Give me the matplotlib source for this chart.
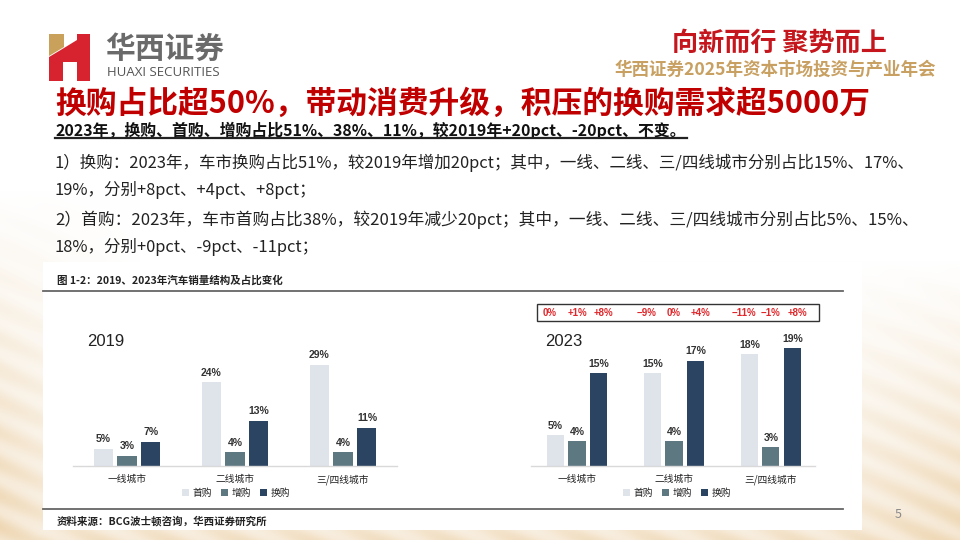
import numpy as np
import matplotlib
matplotlib.use('Agg')
import matplotlib.pyplot as plt
from matplotlib.patches import Polygon, Rectangle, Patch
from matplotlib.transforms import blended_transform_factory

plt.rcParams['font.family'] = ['Noto Sans CJK SC', 'DejaVu Sans']

# ---------------- data ----------------
categories = ['一线城市', '二线城市', '三/四线城市']
series_names = ['首购', '增购', '换购']
share_2019_first = [5, 24, 29]
share_2019_add = [3, 4, 4]
share_2019_replace = [7, 13, 11]
share_2023_first = [5, 15, 18]
share_2023_add = [4, 4, 3]
share_2023_replace = [15, 17, 19]
series_colors = ['#dfe4eb', '#5e7882', '#2b4462']

title = '换购占比超50%，带动消费升级，积压的换购需求超5000万'
subtitle = '2023年，换购、首购、增购占比51%、38%、11%，较2019年+20pct、-20pct、不变。'
body_lines = [
    '1）换购：2023年，车市换购占比51%，较2019年增加20pct；其中，一线、二线、三/四线城市分别占比15%、17%、',
    '19%，分别+8pct、+4pct、+8pct；',
    '2）首购：2023年，车市首购占比38%，较2019年减少20pct；其中，一线、二线、三/四线城市分别占比5%、15%、',
    '18%，分别+0pct、-9pct、-11pct；',
]
caption = '图 1-2：2019、2023年汽车销量结构及占比变化'
source = '资料来源：BCG波士顿咨询，华西证券研究所'

W, H = 960, 540
fig = plt.figure(figsize=(9.6, 5.4), dpi=100)
bg = fig.add_axes([0, 0, 1, 1], zorder=0)

# ---------------- background ----------------
yy, xx = np.mgrid[0:H, 0:W].astype(float)
a_left = np.clip((yy - 190) / 350, 0, 1) * np.clip((140 - xx) / 140, 0, 1)
a_right = np.clip((yy - 260) / 280, 0, 1) * np.clip((xx - 640) / 320, 0, 1)
a_bot = np.clip((yy - 480) / 60, 0, 1) * 0.8
a = np.maximum(np.maximum(a_left, a_right), a_bot)
streak = 0.8 + 0.2 * np.sin((xx * 0.45 - yy) / 5.0)
a = np.clip(a * streak, 0, 1)
beige = np.array([238, 214, 178]) / 255.0
img = (1 - a[..., None]) * np.ones(3) + a[..., None] * beige
bg.imshow(img, extent=(0, W, H, 0), aspect='auto', zorder=0, interpolation='bilinear')
bg.set_xlim(0, W)
bg.set_ylim(H, 0)
bg.axis('off')

renderer = fig.canvas.get_renderer()


def fit(s, x0, x1, y, size, **kw):
    t = bg.text(x0, y, s, fontsize=size, va='center', ha='left', zorder=5, **kw)
    w = t.get_window_extent(renderer).width
    t.set_fontsize(size * (x1 - x0) / w)
    return t

# ---------------- logo ----------------
red = '#d7232f'
gold = '#c9a15a'
bg.add_patch(Polygon([(49, 34), (64, 34), (64, 47), (49, 56)], closed=True,
                     facecolor=gold, edgecolor='none', zorder=3))
bg.add_patch(Polygon([(49, 57), (64, 48), (77, 40), (77, 34), (90, 34), (90, 81),
                      (77, 81), (77, 62), (63, 62), (63, 81), (49, 81)], closed=True,
                     facecolor=red, edgecolor='none', zorder=3))
fit('华西证券', 105, 224, 49, 18, color='#6a6a6a', fontweight='bold')
fit('HUAXI SECURITIES', 107, 220, 73, 8, color='#555555', family=['Open Sans', 'DejaVu Sans'])

# top-right slogan
fit('向新而行 聚势而上', 672, 887, 43, 18, color='#c4161c', fontweight='heavy')
fit('华西证券2025年资本市场投资与产业年会', 615, 937, 70, 11, color='#c8a062', fontweight='bold')

# ---------------- header texts ----------------
fit(title, 55, 870, 104, 22, color='#c00000', fontweight='bold')
fit(subtitle, 55, 686, 130, 12, color='#111111', fontweight='bold')
bg.plot([55, 687], [138, 138], color='#222222', lw=1.6, zorder=5)

t1 = fit(body_lines[0], 55, 914, 163, 12, color='#222222')
fs_body = t1.get_fontsize()
bg.text(55, 190, body_lines[1], fontsize=fs_body, va='center', ha='left', color='#222222', zorder=5)
fit(body_lines[2], 55, 914, 220, 12, color='#222222')
bg.text(55, 247, body_lines[3], fontsize=fs_body, va='center', ha='left', color='#222222', zorder=5)

# ---------------- chart image box ----------------
bg.add_patch(Rectangle((43, 262), 819, 268, facecolor='white', edgecolor='none', zorder=2))
fit(caption, 57, 283, 280, 7.5, color='#222222', fontweight='bold')
bg.plot([43, 843], [291, 291], color='#666666', lw=1.3, zorder=4)
bg.plot([43, 843], [509, 509], color='#666666', lw=1.3, zorder=4)
fit(source, 57, 267, 521, 8, color='#222222', fontweight='bold')
bg.text(898, 515, '5', fontsize=9, color='#8a8a8a', ha='center', va='center', zorder=5)

# red change box
bg.add_patch(Rectangle((537, 304), 282, 17, facecolor='none', edgecolor='#333333', lw=1.0, zorder=4))


def px_axes(x0, x1, ytop, ybot):
    return fig.add_axes([x0 / W, (H - ybot) / H, (x1 - x0) / W, (ybot - ytop) / H], zorder=3)


offsets = [-0.222, 0.0, 0.222]
width = 0.176
xpos = np.arange(len(categories))


def draw_chart(ax, data, ylim_top, xlim):
    handles = []
    for i, (vals, col) in enumerate(zip(data, series_colors)):
        b = ax.bar(xpos + offsets[i], vals, width=width, color=col, zorder=2)
        ax.bar_label(b, labels=[f'{v}%' for v in vals], padding=3, fontsize=7.5,
                     fontweight='bold', color='#333333',
                     family=['Liberation Sans', 'DejaVu Sans'])
        handles.append(Patch(facecolor=col, edgecolor='none'))
    ax.set_xlim(*xlim)
    ax.set_ylim(0, ylim_top)
    ax.patch.set_alpha(0)
    for s in ['top', 'right', 'left']:
        ax.spines[s].set_visible(False)
    ax.spines['bottom'].set_color('#d9d9d9')
    ax.spines['bottom'].set_linewidth(1.0)
    ax.set_yticks([])
    ax.set_xticks(xpos)
    ax.set_xticklabels(categories, fontsize=7, color='#222222')
    ax.tick_params(axis='x', length=0, pad=6)
    return handles


left_data = [share_2019_first, share_2019_add, share_2019_replace]
right_data = [share_2023_first, share_2023_add, share_2023_replace]

axL = px_axes(73, 397, 330, 466)
hL = draw_chart(axL, left_data, 136 / 3.5, (-0.5, 2.5))
axR = px_axes(531, 815, 330, 466)
hR = draw_chart(axR, right_data, 136 / 6.2, (-0.474, 2.454))

bg.text(87, 342, '2019', fontsize=12, color='#222222', va='center', ha='left', zorder=6,
        family=['Liberation Sans', 'DejaVu Sans'])
bg.text(545, 342, '2023', fontsize=12, color='#222222', va='center', ha='left', zorder=6,
        family=['Liberation Sans', 'DejaVu Sans'])

for h, cx in [(hL, 236), (hR, 677)]:
    fig.legend(h, series_names, loc='center', bbox_to_anchor=(cx / W, (H - 493) / H),
               ncol=3, frameon=False, fontsize=7, handlelength=0.7, handleheight=0.7,
               handletextpad=0.4, columnspacing=0.9, labelcolor='#222222')

# change labels 2019 -> 2023 in red box
trR = blended_transform_factory(axR.transData, bg.transData)
for i in range(3):
    for j in range(3):
        d = right_data[i][j] - left_data[i][j]
        lab = '0%' if d == 0 else (f'+{d}%' if d > 0 else f'\u2212{abs(d)}%')
        bg.text(xpos[j] + offsets[i] * 1.25, 313, lab, transform=trR, ha='center', va='center',
                fontsize=7, color='#e0262a', fontweight='bold', zorder=6,
                family=['Liberation Sans', 'DejaVu Sans'])

fig.savefig('out.png', dpi=100)
